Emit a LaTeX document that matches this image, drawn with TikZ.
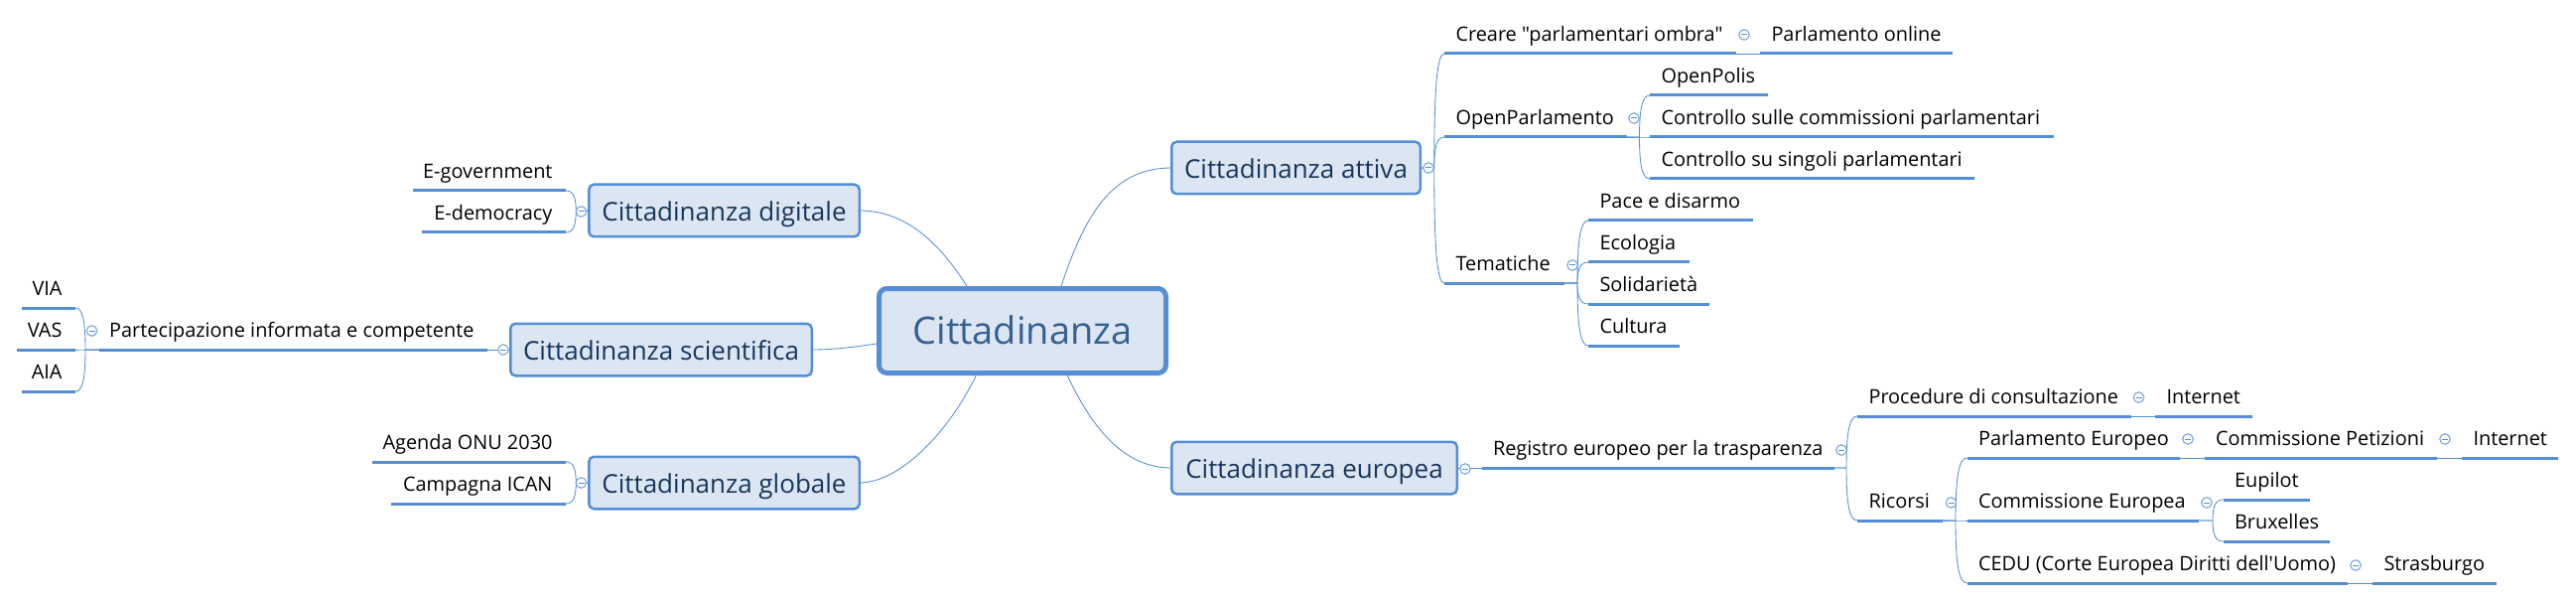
\documentclass[tikz,border=0pt]{standalone}
\usepackage{fontspec}
\usetikzlibrary{calc}
\newfontfamily\osf{Open Sans}
\definecolor{bluel}{HTML}{558ED5}
\definecolor{boxf}{HTML}{DCE6F2}
\definecolor{rootc}{HTML}{366092}
\definecolor{subc}{HTML}{17365D}
\tikzset{
 x=1pt,y=-1pt,
 conn/.style={draw=bluel,line width=0.85pt},
 bar/.style={draw=bluel,line width=3pt},
 leaf/.style={inner sep=0pt,outer sep=0pt,text height=14pt,text depth=12.5pt,font=\osf\fontsize{19.9}{24}\selectfont,text=black},
 subbox/.style={draw=bluel,fill=boxf,line width=2.5pt,rounded corners=5pt,inner sep=0pt,outer sep=0pt,text height=21pt,text depth=0pt,font=\osf\fontsize{26}{32}\selectfont,text=subc},
 rootbox/.style={draw=bluel,fill=boxf,line width=5pt,rounded corners=8pt,inner sep=0pt,outer sep=0pt,text height=26pt,text depth=0pt,font=\osf\fontsize{38}{44}\selectfont,text=rootc},
 iconn/.style={circle,draw=bluel!80,fill=white,line width=1.1pt,minimum size=10.5pt,inner sep=0pt,outer sep=0pt,
   path picture={\draw[bluel,line width=1pt] ([xshift=-3pt]path picture bounding box.center) -- ([xshift=3pt]path picture bounding box.center);}},
}
% right-growing leaf: name, x1, x2, line y, text
\newcommand\leafR[5]{\pgfmathsetlengthmacro\leafw{#3-#2}
 \node[leaf,anchor=south west] (#1) at (#2,#4) {\hbox to \leafw{\hskip11.5pt #5\hfil}};
 \draw[bar] (#1.south west) -- (#1.south east);}
% left-growing leaf
\newcommand\leafL[5]{\pgfmathsetlengthmacro\leafw{#3-#2}
 \node[leaf,anchor=south west] (#1) at (#2,#4) {\hbox to \leafw{\hfil #5\hskip13.5pt}};
 \draw[bar] (#1.south west) -- (#1.south east);}
% bracket branch: start point, end point, horizontal run to the trunk
\newcommand\branch[3]{\draw[conn] let \p1=(#1), \p2=(#2), \n1={\x1+#3} in (\p1) -- (\n1,\y1)
 .. controls (\n1,{\y1+0.72*(\y2-\y1)}) and ({\n1+0.3*(\x2-\n1)},\y2) .. (\p2);}
\newcommand\iconat[3]{\node[iconn] (#1) at (#2,#3) {};}
\begin{document}
\begin{tikzpicture}
\useasboundingbox (0,0) rectangle (2595,604);
% boxes
\node[rootbox,minimum width=289pt,minimum height=85pt] (root) at (1030,333) {Cittadinanza};
\node[subbox,minimum width=272.5pt,minimum height=52.5pt] (dig) at (729.5,212) {Cittadinanza digitale};
\node[subbox,minimum width=303.5pt,minimum height=52.5pt] (sci) at (666,352) {Cittadinanza scientifica};
\node[subbox,minimum width=272.5pt,minimum height=52.5pt] (glo) at (729.5,486) {Cittadinanza globale};
\node[subbox,minimum width=250.5pt,minimum height=52.5pt] (att) at (1305.5,169) {Cittadinanza attiva};
\node[subbox,minimum width=287.5pt,minimum height=52.5pt] (eur) at (1324,471) {Cittadinanza europea};
% leaves, left side
\leafL{egov}{416}{570}{192}{E-government}
\leafL{edem}{425}{570}{234}{E-democracy}
\leafL{via}{22}{76}{310}{VIA}
\leafL{vas}{17}{76}{352}{VAS}
\leafL{aia}{22}{76}{394}{AIA}
\leafL{part}{100}{491}{352}{Partecipazione informata e competente}
\leafL{agenda}{375}{570}{465}{Agenda ONU 2030}
\leafL{ican}{394}{570}{507}{Campagna ICAN}
% leaves, right top
\leafR{creare}{1455}{1749}{54}{Creare "parlamentari ombra"}
\leafR{online}{1773}{1967}{54}{Parlamento online}
\leafR{openp}{1455}{1638.5}{138}{OpenParlamento}
\leafR{polis}{1662}{1781}{96}{OpenPolis}
\leafR{comm}{1662}{2069}{138}{Controllo sulle commissioni parlamentari}
\leafR{sing}{1662}{1989}{180}{Controllo su singoli parlamentari}
\leafR{tema}{1455}{1576}{285}{Tematiche}
\leafR{pace}{1600}{1766}{222}{Pace e disarmo}
\leafR{eco}{1600}{1702}{264}{Ecologia}
\leafR{sol}{1600}{1722}{306}{Solidarietà}
\leafR{cult}{1600}{1692}{348}{Cultura}
% leaves, right bottom
\leafR{reg}{1492.5}{1847.5}{471}{Registro europeo per la trasparenza}
\leafR{proc}{1871}{2147}{419}{Procedure di consultazione}
\leafR{inta}{2171}{2268.5}{419}{Internet}
\leafR{ric}{1871}{1957}{524}{Ricorsi}
\leafR{parl}{1981.5}{2196}{461}{Parlamento Europeo}
\leafR{pet}{2220.5}{2455}{461}{Commissione Petizioni}
\leafR{intb}{2480}{2577}{461}{Internet}
\leafR{ce}{1981.5}{2215}{524}{Commissione Europea}
\leafR{eup}{2239.5}{2327}{503}{Eupilot}
\leafR{bru}{2239.5}{2347}{545}{Bruxelles}
\leafR{cedu}{1981.5}{2365}{587}{CEDU (Corte Europea Diritti dell'Uomo)}
\leafR{stra}{2390}{2515}{587}{Strasburgo}
% root connectors
\draw[conn] (dig.east) to[out=0,in=122,out distance=42pt,in distance=62pt] (root.142.7);
\draw[conn] (sci.east) to[out=0,in=188,out distance=25pt,in distance=25pt] (root.185.4);
\draw[conn] (glo.east) to[out=0,in=245,out distance=42pt,in distance=62pt] (root.223.7);
\draw[conn] (att.west) to[out=180,in=72,out distance=59pt,in distance=80pt] (root.48.4);
\draw[conn] (eur.west) to[out=180,in=295,out distance=48pt,in distance=62pt] (root.316.3);
% branches
\branch{dig.west}{egov.south east}{-13}
\branch{dig.west}{edem.south east}{-13}
\draw[conn] (sci.west) -- (part.south east);
\branch{part.south west}{via.south east}{-14}
\branch{part.south west}{vas.south east}{-14}
\branch{part.south west}{aia.south east}{-14}
\branch{glo.west}{agenda.south east}{-13}
\branch{glo.west}{ican.south east}{-13}
\branch{att.east}{creare.south west}{14}
\branch{att.east}{openp.south west}{14}
\branch{att.east}{tema.south west}{14}
\draw[conn] (creare.south east) -- (online.south west);
\branch{openp.south east}{polis.south west}{13}
\branch{openp.south east}{comm.south west}{13}
\branch{openp.south east}{sing.south west}{13}
\branch{tema.south east}{pace.south west}{13}
\branch{tema.south east}{eco.south west}{13}
\branch{tema.south east}{sol.south west}{13}
\branch{tema.south east}{cult.south west}{13}
\draw[conn] (eur.east) -- (reg.south west);
\branch{reg.south east}{proc.south west}{12.5}
\branch{reg.south east}{ric.south west}{12.5}
\draw[conn] (proc.south east) -- (inta.south west);
\branch{ric.south east}{parl.south west}{13}
\branch{ric.south east}{ce.south west}{13}
\branch{ric.south east}{cedu.south west}{13}
\draw[conn] (parl.south east) -- (pet.south west);
\draw[conn] (pet.south east) -- (intb.south west);
\branch{ce.south east}{eup.south west}{14}
\branch{ce.south east}{bru.south west}{14}
\draw[conn] (cedu.south east) -- (stra.south west);
% collapse icons
\iconat{i1}{585.5}{213}
\iconat{i2}{507}{352}
\iconat{i3}{92.5}{333}
\iconat{i4}{585.5}{486}
\iconat{i5}{1439}{169}
\iconat{i6}{1757}{35}
\iconat{i7}{1646}{119}
\iconat{i8}{1584}{267}
\iconat{i9}{1476}{472}
\iconat{i10}{1855}{453}
\iconat{i11}{2154.5}{400}
\iconat{i12}{1965.5}{506}
\iconat{i13}{2204}{442}
\iconat{i14}{2463}{442}
\iconat{i15}{2223}{506}
\iconat{i16}{2373}{569}
\end{tikzpicture}
\end{document}
